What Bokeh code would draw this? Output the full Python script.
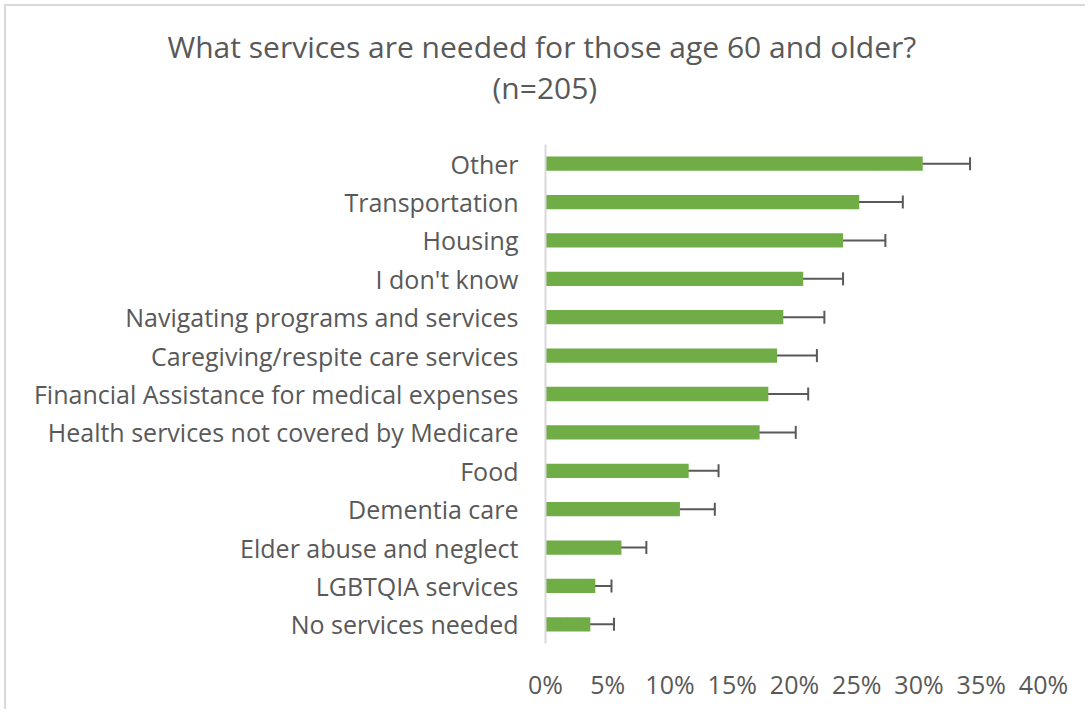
from bokeh.plotting import figure
from bokeh.models import (FactorRange, Range1d, FixedTicker, PrintfTickFormatter,
                          ColumnDataSource, Whisker, TeeHead, Title)
from bokeh.embed import file_html
from bokeh.resources import INLINE

categories = ["Other", "Transportation", "Housing", "I don't know",
              "Navigating programs and services", "Caregiving/respite care services",
              "Financial Assistance for medical expenses",
              "Health services not covered by Medicare", "Food", "Dementia care",
              "Elder abuse and neglect", "LGBTQIA services", "No services needed"]
values = [30.3, 25.2, 23.9, 20.7, 19.1, 18.6, 17.9, 17.2, 11.5, 10.8, 6.1, 4.0, 3.6]
lower = [26.5, 21.6, 20.4, 17.4, 15.8, 15.5, 14.7, 14.3, 9.1, 8.0, 4.3, 2.6, 1.8]
upper = [34.1, 28.7, 27.3, 23.9, 22.4, 21.8, 21.1, 20.1, 13.9, 13.6, 8.1, 5.3, 5.5]
x_ticks = [0, 5, 10, 15, 20, 25, 30, 35, 40]
title_lines = ["What services are needed for those age 60 and older?", "(n=205)"]

TXT = "#595959"
FONT = "Open Sans"

src = ColumnDataSource(dict(cat=categories, val=values, lo=lower, hi=upper))

p = figure(width=1081, height=705, output_backend="svg", toolbar_location=None,
           y_range=FactorRange(factors=categories[::-1], range_padding=0),
           x_range=Range1d(0, 40),
           min_border_left=539, min_border_right=44, min_border_top=138,
           min_border_bottom=68)
p.title = None

t2 = Title(text=title_lines[1], align="left", text_font=FONT, text_font_size="30px",
           text_font_style="normal", text_color=TXT, offset=-53, standoff=74)
t1 = Title(text=title_lines[0], align="left", text_font=FONT, text_font_size="30px",
           text_font_style="normal", text_color=TXT, offset=-378, standoff=-79)
p.add_layout(t2, "above")
p.add_layout(t1, "above")

p.hbar(y="cat", right="val", left=0, height=0.372, source=src,
       fill_color="#70AD47", line_color=None)

w = Whisker(base="cat", lower="lo", upper="hi", source=src, dimension="width",
            line_color="#595959", line_width=2,
            lower_head=TeeHead(size=13, line_color="#595959", line_width=2),
            upper_head=TeeHead(size=13, line_color="#595959", line_width=2))
p.add_layout(w)

p.xgrid.visible = False
p.ygrid.visible = False
p.outline_line_color = None

xa = p.xaxis[0]
xa.ticker = FixedTicker(ticks=x_ticks)
xa.formatter = PrintfTickFormatter(format="%d%%")
xa.axis_line_color = None
xa.major_tick_line_color = None
xa.minor_tick_line_color = None
xa.major_label_text_font = FONT
xa.major_label_text_font_size = "25px"
xa.major_label_text_color = TXT
xa.major_label_standoff = 17

ya = p.yaxis[0]
ya.axis_line_color = "#D9D9D9"
ya.axis_line_width = 2
ya.major_tick_line_color = None
ya.minor_tick_line_color = None
ya.major_label_text_font = FONT
ya.major_label_text_font_size = "25px"
ya.major_label_text_color = TXT
ya.major_label_standoff = 21

p.styles = {"border-top": "2px solid #D9D9D9", "border-left": "2px solid #D9D9D9",
            "margin-left": "4px", "margin-top": "4px"}

open("out.html", "w").write(file_html(p, INLINE))
